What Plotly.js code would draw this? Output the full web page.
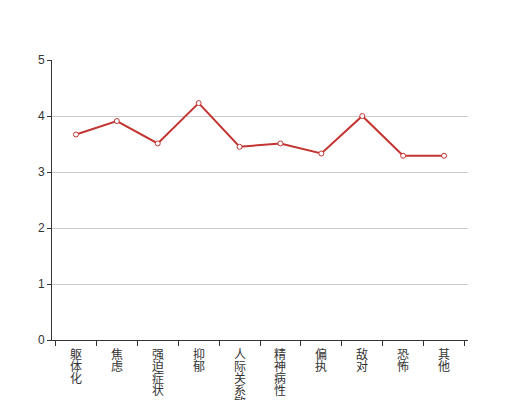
<!DOCTYPE html>
<html><head><meta charset="utf-8">
<script src="https://cdn.plot.ly/plotly-3.0.1.min.js"></script>
<style>body{margin:0;padding:0;background:#fff}#c{width:520px;height:400px}</style>
</head><body><div id="c"></div>
<script>
const categories = ["躯体化","焦虑","强迫症状","抑郁","人际关系敏感","精神病性","偏执","敌对","恐怖","其他"];
const values = [3.67, 3.91, 3.51, 4.23, 3.45, 3.51, 3.33, 4.0, 3.29, 3.29];
const yTicks = [0, 1, 2, 3, 4, 5];

// vertical category labels: one character per line, 12px pitch
const annotations = [];
categories.forEach(cat => {
  cat.split("").forEach((ch, j) => {
    annotations.push({
      x: cat, xref: "x", y: 0, yref: "paper",
      yanchor: "middle", xanchor: "center",
      yshift: -(13 + 12 * j),
      text: ch, showarrow: false,
      font: {family: "Noto Sans CJK SC, sans-serif", size: 12, color: "#333"}
    });
  });
});

Plotly.newPlot("c", [{
  x: categories,
  y: values,
  type: "scatter",
  mode: "lines+markers",
  line: {color: "#c23531", width: 2},
  marker: {symbol: "circle", size: 5, color: "#fff", line: {color: "#c23531", width: 1}},
  hoverinfo: "none"
}], {
  width: 520, height: 400,
  margin: {l: 52, r: 52, t: 60, b: 60},
  paper_bgcolor: "#fff", plot_bgcolor: "#fff",
  font: {family: "Liberation Sans, Noto Sans CJK SC, sans-serif", size: 12, color: "#333"},
  showlegend: false,
  annotations: annotations,
  xaxis: {
    type: "category",
    tickson: "boundaries",
    ticks: "outside", ticklen: 5, tickcolor: "#333",
    showticklabels: false,
    showline: true, linecolor: "#333", linewidth: 1,
    showgrid: false, zeroline: false,
    automargin: false,
    fixedrange: true
  },
  yaxis: {
    range: [0, 5],
    tickvals: yTicks,
    ticks: "outside", ticklen: 4, tickcolor: "#333",
    showline: true, linecolor: "#333", linewidth: 1,
    showgrid: true, gridcolor: "#ccc", gridwidth: 1,
    zeroline: false,
    automargin: false,
    tickfont: {size: 12, color: "#333"},
    fixedrange: true
  }
}, {displayModeBar: false, staticPlot: true});
</script></body></html>
